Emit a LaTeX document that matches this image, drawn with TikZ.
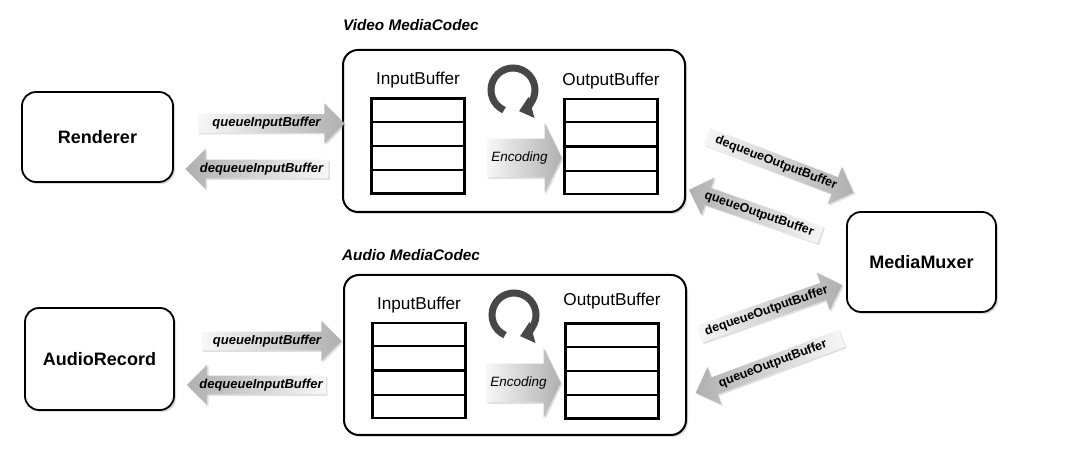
\documentclass[tikz,border=0pt]{standalone}
\usepackage{fontspec}
\setmainfont{Liberation Sans}
\usetikzlibrary{calc,positioning,shapes.arrows,shadows,arrows.meta}

\tikzset{
  softshadow/.style={drop shadow={shadow xshift=2pt,shadow yshift=-2pt,opacity=0.3}},
  block/.style={draw, line width=1.8pt, rounded corners=14pt, fill=white, softshadow,
    font=\bfseries\fontsize{18}{21}\selectfont},
  codec/.style={draw, line width=2pt, rounded corners=15pt, fill=white, softshadow},
  title/.style={anchor=west, inner sep=0pt, font=\bfseries\itshape\fontsize{15.3}{18}\selectfont},
  buf/.style={draw, line width=2.4pt, minimum width=93pt, minimum height=95pt, inner sep=0pt},
  buflabel/.style={inner sep=0pt, font=\fontsize{17.2}{20}\selectfont},
  garrow/.style={single arrow, single arrow head extend=11pt, single arrow head indent=0pt,
    inner xsep=3pt, inner ysep=3pt, left color=gray!6, right color=gray!62, draw=none,
    drop shadow={shadow xshift=1.5pt,shadow yshift=-1.5pt,opacity=0.25},
    font=\bfseries\itshape\fontsize{13}{15}\selectfont},
  backarrow/.style={garrow, shape border rotate=180, left color=gray!62, right color=gray!6},
  muxarrow/.style={garrow, font=\bfseries\fontsize{12.5}{15}\selectfont},
  muxback/.style={backarrow, font=\bfseries\fontsize{12.5}{15}\selectfont},
  encarrow/.style={garrow, inner ysep=13pt, single arrow head extend=15.5pt,
    single arrow tip angle=128, font=\itshape\fontsize{13.5}{16}\selectfont},
  cyc/.style={line width=7pt, draw=black!72, -{Triangle[width=21pt,length=13pt]}}
}

\begin{document}
\begin{tikzpicture}[x=1pt,y=1pt]
  \useasboundingbox (0,0) rectangle (1080,465);

  % sources and muxer
  \node[block, minimum width=151pt, minimum height=90pt] (rend) at (97.5,328) {Renderer};
  \node[block, minimum width=149pt, minimum height=102pt] (arec) at (99.5,106) {AudioRecord};
  \node[block, minimum width=149pt, minimum height=100pt] (mmux) at (921.5,203) {MediaMuxer};

  % codec frames
  \node[codec, minimum width=342pt, minimum height=162pt] (vcodec) at (514,334) {};
  \node[codec, minimum width=342pt, minimum height=160pt] (acodec) at (515,110) {};
  \node[title] (vtitle) at (343,440) {Video MediaCodec};
  \node[title] (atitle) at (342,210) {Audio MediaCodec};

  % buffers
  \node[buf] (vin) at (418,319) {};
  \node[buf] (vout) at (611,318.5) {};
  \node[buf] (ain) at (419,94.5) {};
  \node[buf] (aout) at (612,94) {};
  \foreach \b in {vin,vout,ain,aout}
    \foreach \k in {1,2,3}
      \draw[line width=2.2pt] ($(\b.north west)!\k/4!(\b.south west)$) -- ($(\b.north east)!\k/4!(\b.south east)$);

  \node[buflabel, above=9pt of vin] (vinl) {InputBuffer};
  \node[buflabel, above=9pt of vout] (voutl) {OutputBuffer};
  \node[buflabel, above=9pt of ain] (ainl) {InputBuffer};
  \node[buflabel, above=13pt of aout] (aoutl) {OutputBuffer};

  % encoding loops
  \coordinate (vcyc) at (513,375);
  \coordinate (acyc) at (514,150);
  \draw[cyc] ($(vcyc)+(246:22)$) arc (246:-74:22);
  \draw[cyc] ($(acyc)+(246:22)$) arc (246:-74:22);

  \node[encarrow, minimum height=75pt] (venc) at (519.5,307) {Encoding};
  \node[encarrow, minimum height=75pt] (aenc) at (518.5,82) {Encoding};

  % input side
  \node[garrow, minimum height=147pt] (vq) at (266.5,341.5) {queueInputBuffer};
  \node[backarrow, minimum height=143pt] (vdq) at (261.5,296) {dequeueInputBuffer};
  \node[garrow, minimum height=140pt] (aq) at (267,124) {queueInputBuffer};
  \node[backarrow, minimum height=138pt] (adq) at (261,80) {dequeueInputBuffer};

  % output side
  \node[muxarrow, rotate=-21, minimum height=157pt] (vdqo) at (776,302) {dequeueOutputBuffer};
  \node[muxback, rotate=-19, minimum height=139pt] (vqo) at (759,251) {queueOutputBuffer};
  \node[muxarrow, rotate=19, minimum height=151pt] (adqo) at (766.5,154) {dequeueOutputBuffer};
  \node[muxback, rotate=20.5, minimum height=156pt] (aqo) at (773,101) {queueOutputBuffer};
\end{tikzpicture}
\end{document}
